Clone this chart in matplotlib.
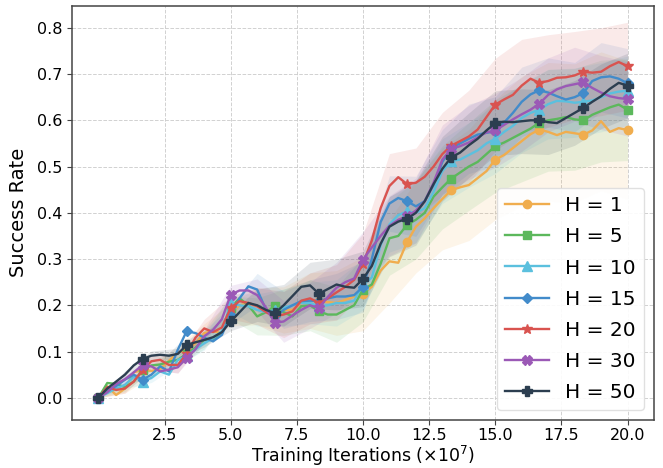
import numpy as np
import matplotlib
matplotlib.use("Agg")
import matplotlib.pyplot as plt

# x grid: training iterations (x1e7), step 1/3
iters = np.arange(61) / 3.0

labels = ["H = 1", "H = 5", "H = 10", "H = 15", "H = 20", "H = 30", "H = 50"]
colors = ["#F0AD4E", "#5CB85C", "#5BC0DE", "#428BCA", "#D9534F", "#9B59B6", "#2C3E50"]
markers = ["o", "s", "^", "D", "*", "X", "P"]

h1 = [0, 0.025, 0.006, 0.02, 0.055, 0.06, 0.058, 0.062, 0.08, 0.098,
      0.102, 0.118, 0.14, 0.144, 0.14, 0.18, 0.20, 0.205, 0.198, 0.19,
      0.19, 0.19, 0.19, 0.205, 0.21, 0.209, 0.207, 0.205, 0.212, 0.219,
      0.225, 0.24, 0.275, 0.295, 0.292, 0.337, 0.37, 0.388, 0.41, 0.43,
      0.449, 0.455, 0.46, 0.475, 0.49, 0.515, 0.525, 0.54, 0.555, 0.57,
      0.58, 0.575, 0.568, 0.575, 0.572, 0.569, 0.578, 0.598, 0.575, 0.583,
      0.579]
h5 = [0, 0.032, 0.03, 0.023, 0.035, 0.06, 0.07, 0.072, 0.078, 0.082,
      0.095, 0.108, 0.126, 0.125, 0.14, 0.195, 0.215, 0.2, 0.176, 0.185,
      0.198, 0.185, 0.176, 0.198, 0.2, 0.187, 0.18, 0.18, 0.19, 0.2,
      0.234, 0.245, 0.29, 0.345, 0.35, 0.374, 0.385, 0.40, 0.435, 0.455,
      0.474, 0.487, 0.50, 0.51, 0.527, 0.544, 0.552, 0.562, 0.572, 0.582,
      0.595, 0.6, 0.603, 0.607, 0.602, 0.60, 0.612, 0.62, 0.628, 0.634,
      0.623]
h10 = [0, 0.01, 0.02, 0.028, 0.045, 0.035, 0.043, 0.057, 0.05, 0.082,
       0.09, 0.105, 0.118, 0.129, 0.144, 0.205, 0.2, 0.198, 0.19, 0.185,
       0.19, 0.195, 0.2, 0.205, 0.205, 0.198, 0.2, 0.205, 0.205, 0.21,
       0.245, 0.26, 0.33, 0.375, 0.395, 0.403, 0.40, 0.41, 0.445, 0.49,
       0.512, 0.515, 0.525, 0.535, 0.55, 0.56, 0.575, 0.588, 0.605, 0.616,
       0.623, 0.635, 0.642, 0.641, 0.638, 0.64, 0.643, 0.65, 0.658, 0.662,
       0.664]
h15 = [0, 0.015, 0.025, 0.039, 0.05, 0.039, 0.05, 0.068, 0.057, 0.104,
       0.144, 0.14, 0.13, 0.122, 0.136, 0.18, 0.215, 0.241, 0.234, 0.19,
       0.176, 0.19, 0.2, 0.209, 0.21, 0.209, 0.215, 0.219, 0.219, 0.222,
       0.24, 0.30, 0.38, 0.42, 0.432, 0.425, 0.414, 0.425, 0.46, 0.51,
       0.54, 0.55, 0.56, 0.569, 0.573, 0.576, 0.595, 0.616, 0.64, 0.656,
       0.665, 0.66, 0.652, 0.645, 0.65, 0.659, 0.685, 0.693, 0.695, 0.69,
       0.68]
h20 = [0, 0.023, 0.017, 0.02, 0.035, 0.06, 0.079, 0.082, 0.071, 0.071,
       0.095, 0.13, 0.15, 0.142, 0.152, 0.195, 0.209, 0.205, 0.198, 0.185,
       0.176, 0.18, 0.187, 0.21, 0.215, 0.205, 0.215, 0.228, 0.24, 0.255,
       0.29, 0.34, 0.41, 0.458, 0.477, 0.462, 0.465, 0.478, 0.50, 0.527,
       0.545, 0.555, 0.565, 0.58, 0.607, 0.634, 0.645, 0.655, 0.675, 0.69,
       0.681, 0.685, 0.692, 0.693, 0.697, 0.705, 0.703, 0.705, 0.717, 0.726,
       0.717]
h30 = [0, 0.012, 0.03, 0.04, 0.055, 0.071, 0.068, 0.057, 0.061, 0.066,
       0.086, 0.105, 0.133, 0.147, 0.17, 0.223, 0.232, 0.232, 0.222, 0.195,
       0.162, 0.165, 0.178, 0.19, 0.2, 0.194, 0.218, 0.238, 0.25, 0.258,
       0.299, 0.325, 0.35, 0.372, 0.385, 0.392, 0.405, 0.425, 0.465, 0.515,
       0.538, 0.544, 0.552, 0.563, 0.574, 0.578, 0.59, 0.602, 0.613, 0.623,
       0.636, 0.655, 0.667, 0.674, 0.678, 0.682, 0.67, 0.66, 0.652, 0.648,
       0.646]
h50 = [0, 0.02, 0.035, 0.05, 0.07, 0.084, 0.091, 0.093, 0.091, 0.095,
       0.114, 0.12, 0.125, 0.131, 0.142, 0.165, 0.185, 0.205, 0.2, 0.19,
       0.183, 0.2, 0.22, 0.24, 0.243, 0.225, 0.235, 0.245, 0.24, 0.238,
       0.257, 0.285, 0.333, 0.37, 0.381, 0.387, 0.40, 0.425, 0.462, 0.495,
       0.52, 0.53, 0.546, 0.56, 0.578, 0.594, 0.597, 0.596, 0.598, 0.6,
       0.6, 0.596, 0.594, 0.605, 0.616, 0.627, 0.64, 0.652, 0.668, 0.681,
       0.675]

# half-width of the shaded band, at integer iterations 0..20
sd1 = [0, 0.01, 0.012, 0.015, 0.02, 0.025, 0.04, 0.05, 0.06, 0.07, 0.08,
       0.09, 0.10, 0.11, 0.12, 0.13, 0.14, 0.15, 0.15, 0.15, 0.15]
sd5 = [0, 0.01, 0.012, 0.015, 0.02, 0.025, 0.04, 0.05, 0.055, 0.06, 0.07,
       0.08, 0.085, 0.09, 0.095, 0.10, 0.105, 0.11, 0.11, 0.11, 0.11]
sd10 = [0, 0.008, 0.01, 0.012, 0.015, 0.02, 0.035, 0.04, 0.045, 0.05, 0.055,
        0.06, 0.065, 0.07, 0.07, 0.075, 0.075, 0.075, 0.075, 0.075, 0.075]
sd15 = [0, 0.008, 0.01, 0.012, 0.015, 0.02, 0.035, 0.04, 0.045, 0.05, 0.055,
        0.06, 0.065, 0.07, 0.075, 0.075, 0.075, 0.075, 0.075, 0.075, 0.075]
sd20 = [0, 0.01, 0.015, 0.018, 0.02, 0.025, 0.04, 0.05, 0.055, 0.06, 0.065,
        0.07, 0.075, 0.09, 0.10, 0.10, 0.10, 0.10, 0.095, 0.095, 0.095]
sd30 = [0, 0.008, 0.01, 0.012, 0.015, 0.02, 0.035, 0.045, 0.05, 0.055, 0.06,
        0.065, 0.07, 0.075, 0.08, 0.08, 0.08, 0.08, 0.08, 0.08, 0.08]
sd50 = [0, 0.008, 0.01, 0.012, 0.015, 0.02, 0.035, 0.045, 0.05, 0.055, 0.06,
        0.065, 0.07, 0.07, 0.07, 0.07, 0.07, 0.07, 0.07, 0.07, 0.07]

means = [h1, h5, h10, h15, h20, h30, h50]
sds = [sd1, sd5, sd10, sd15, sd20, sd30, sd50]
msizes = [6, 5.5, 6.5, 5.5, 7.5, 6.5, 6.5]

xticks = [2.5, 5.0, 7.5, 10.0, 12.5, 15.0, 17.5, 20.0]
yticks = [0.0, 0.1, 0.2, 0.3, 0.4, 0.5, 0.6, 0.7, 0.8]

plt.rcParams['font.family'] = ['DejaVu Sans']
fig = plt.figure(figsize=(6.63, 4.68), dpi=100)
ax = fig.add_axes([0.1086, 0.1026, 0.9864 - 0.1086, 0.988 - 0.1026])

coarse = iters[::3]
for m, s, c in zip(means, sds, colors):
    mc = np.asarray(m)[::3]
    sc = np.asarray(s)
    ax.fill_between(coarse, mc - sc, mc + sc, color=c, alpha=0.12, linewidth=0)

for m, c, mk, lab, ms in zip(means, colors, markers, labels, msizes):
    ax.plot(iters, m, color=c, marker=mk, markevery=5, markersize=ms,
            linewidth=1.7, label=lab, solid_joinstyle='round')

ax.set_xlim(-1, 21)
ax.set_ylim(-0.048, 0.848)
ax.set_xticks(xticks)
ax.set_yticks(yticks)
ax.set_xticklabels([f"{t:.1f}" for t in xticks])
ax.set_yticklabels([f"{t:.1f}" for t in yticks])
ax.tick_params(labelsize=11.5, length=3.5, color='#444444')
ax.tick_params(axis='x', pad=2.5)
ax.grid(True, linestyle='--', color='#cccccc', linewidth=0.7, alpha=0.9)
ax.set_axisbelow(True)
for sp in ax.spines.values():
    sp.set_color('#444444')
    sp.set_linewidth(1.1)

ax.set_xlabel(r"Training Iterations ($\times 10^7$)", fontsize=12.5, labelpad=0.5)
ax.set_ylabel("Success Rate", fontsize=14, labelpad=6)

leg = ax.legend(loc='lower right', fontsize=14.5, handlelength=2.2,
                labelspacing=0.6, framealpha=0.9, edgecolor='#dddddd')

fig.savefig("out.png", dpi=100)
